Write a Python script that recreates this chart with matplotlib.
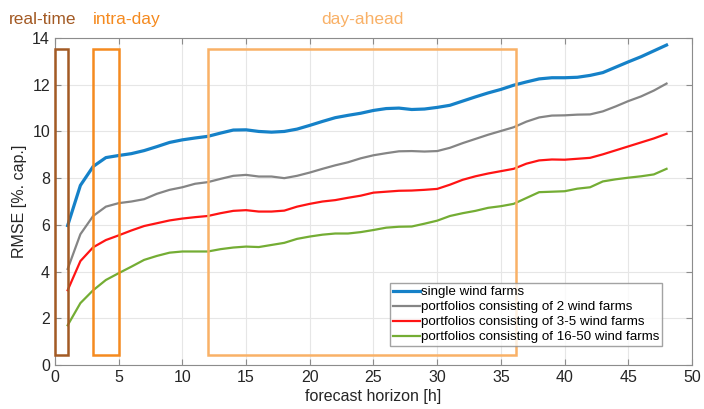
import matplotlib
matplotlib.use("Agg")
import matplotlib.pyplot as plt
from matplotlib.patches import Rectangle

plt.rcParams["font.family"] = ["Liberation Sans", "DejaVu Sans"]

# forecast horizon [h]
hours = list(range(1, 49))

# RMSE [% of capacity]
single = [5.97, 7.69, 8.5, 8.88, 8.97, 9.05, 9.18, 9.35, 9.53, 9.64,
          9.72, 9.79, 9.93, 10.06, 10.07, 10.0, 9.97, 10.0, 10.1, 10.26,
          10.43, 10.59, 10.69, 10.78, 10.9, 10.98, 11.0, 10.94, 10.96, 11.03,
          11.12, 11.3, 11.48, 11.65, 11.8, 11.98, 12.12, 12.25, 12.3, 12.3,
          12.32, 12.4, 12.52, 12.75, 12.98, 13.2, 13.45, 13.7]
port_2 = [4.11, 5.6, 6.38, 6.78, 6.93, 7.0, 7.1, 7.33, 7.5, 7.61,
          7.76, 7.83, 7.97, 8.1, 8.14, 8.07, 8.07, 8.0, 8.1, 8.24,
          8.4, 8.55, 8.68, 8.85, 8.98, 9.07, 9.15, 9.16, 9.14, 9.16,
          9.3, 9.5, 9.68, 9.86, 10.02, 10.18, 10.42, 10.6, 10.68, 10.69,
          10.72, 10.73, 10.86, 11.07, 11.3, 11.5, 11.75, 12.05]
port_3_5 = [3.2, 4.45, 5.04, 5.35, 5.55, 5.76, 5.95, 6.07, 6.19, 6.27,
            6.33, 6.38, 6.5, 6.6, 6.63, 6.57, 6.57, 6.61, 6.78, 6.9,
            7.0, 7.06, 7.16, 7.25, 7.38, 7.42, 7.46, 7.47, 7.5, 7.54,
            7.72, 7.93, 8.08, 8.2, 8.3, 8.4, 8.62, 8.76, 8.8, 8.79,
            8.83, 8.87, 9.02, 9.19, 9.36, 9.53, 9.7, 9.9]
port_16_50 = [1.7, 2.65, 3.2, 3.64, 3.93, 4.21, 4.5, 4.67, 4.81, 4.86,
              4.86, 4.86, 4.96, 5.03, 5.07, 5.05, 5.14, 5.23, 5.4, 5.5,
              5.58, 5.63, 5.63, 5.69, 5.78, 5.88, 5.92, 5.93, 6.05, 6.18,
              6.38, 6.5, 6.6, 6.73, 6.8, 6.9, 7.15, 7.4, 7.42, 7.44,
              7.55, 7.61, 7.86, 7.95, 8.02, 8.08, 8.16, 8.4]

series_labels = ["single wind farms",
                 "portfolios consisting of 2 wind farms",
                 "portfolios consisting of 3-5 wind farms",
                 "portfolios consisting of 16-50 wind farms"]

# forecast windows: (name, start h, end h)
windows = [("real-time", 0, 1), ("intra-day", 3, 5), ("day-ahead", 12, 36.2)]
win_colors = ["#a35a24", "#f58a1f", "#f9b167"]

fig = plt.figure(figsize=(7.04, 4.09), dpi=100)
ax = fig.add_axes([0.078, 0.1076, 0.905, 0.7994])

styles = [("#1581c8", 2.3), ("#858585", 1.6), ("#ff1414", 1.6), ("#74ad34", 1.6)]
for vals, lab, (c, lw) in zip([single, port_2, port_3_5, port_16_50],
                              series_labels, styles):
    ax.plot(hours, vals, color=c, lw=lw, label=lab, zorder=3)

for (name, x0, x1), c in zip(windows, win_colors):
    ax.add_patch(Rectangle((x0, 0.43), x1 - x0, 13.12, fill=False,
                           edgecolor=c, lw=1.8, zorder=4, clip_on=False))

ax.text(-3.6, 14.62, "real-time", color=win_colors[0], fontsize=12.5)
ax.text(3.0, 14.62, "intra-day", color=win_colors[1], fontsize=12.5)
ax.text(20.9, 14.62, "day-ahead", color=win_colors[2], fontsize=12.5)

ax.set_xlim(0, 50)
ax.set_ylim(0, 14)
ax.set_xticks(range(0, 51, 5))
ax.set_yticks(range(0, 15, 2))
ax.grid(True, color="#e6e6e6", lw=0.8)
ax.set_axisbelow(True)
ax.tick_params(direction="in", top=True, right=True, labelsize=11.5,
               colors="#8c8c8c", labelcolor="#262626", length=4)
for s in ax.spines.values():
    s.set_color("#8c8c8c")
ax.set_xlabel("forecast horizon [h]", fontsize=11.5, color="#262626", labelpad=3)
ax.set_ylabel("RMSE [%. cap.]", fontsize=11.5, color="#262626", labelpad=4)

leg = ax.legend(loc="lower right", bbox_to_anchor=(0.953, 0.058), fontsize=9.6,
                frameon=True, fancybox=False, handlelength=2.0,
                handletextpad=0.1, borderpad=0.2, labelspacing=0.2,
                borderaxespad=0)
leg.get_frame().set_edgecolor("#8c8c8c")
leg.get_frame().set_linewidth(1.0)
leg.set_zorder(5)

fig.savefig("out.png", dpi=100)
